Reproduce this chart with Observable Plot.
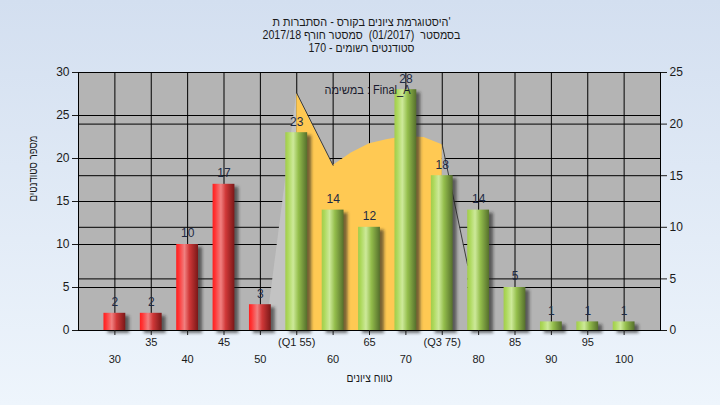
<!DOCTYPE html>
<html><head><meta charset="utf-8">
<script src="https://cdn.jsdelivr.net/npm/d3@7"></script>
<script src="https://cdn.jsdelivr.net/npm/@observablehq/plot@0.6"></script>
<style>
html,body{margin:0;padding:0;}
body{width:720px;height:405px;overflow:hidden;background:linear-gradient(#d3dff0,#eef5fc);}
</style></head><body><div id="chart"></div>
<script>
// ---- data ----
const categories = [30,35,40,45,50,55,60,65,70,75,80,85,90,95,100];
const counts = [2,2,10,17,3,23,14,12,28,18,14,5,1,1,1];
const tickLabels = ["30","35","40","45","50","(Q1 55)","60","65","70","(Q3 75)","80","85","90","95","100"];
const leftTicks = [0,5,10,15,20,25,30];
const rightTicks = [0,5,10,15,20,25];
// secondary-axis area (right scale units)
const curveX = [55,60,62.5,65,67.5,70,72.5,75];
const curveY = [23,16,17.2,18.1,18.5,18.8,18.7,18.0];
// 3D side faces of the area (right scale units)
const leftSideX = [50.8,55];
const leftSideY = [0,23];
const rightSideX = [75,78.5];
const rightSideY = [18,6.3];
const titleLines = ["היסטוגרמת ציונים בקורס - הסתברות ת'", "בסמסטר  (01/2017)  סמסטר חורף 2017/18", "סטודנטים רשומים - 170"];
const yTitle = "מספר סטודנטים";
const xTitle = "טווח ציונים";
const note = "במשימה : Final_A";

// ---- derived tables ----
const R = 30 / 25; // right axis -> left axis
const HALF = 1.5;  // half bar width in x units
const bars = categories.map((c, i) => ({cat: c, n: counts[i], label: tickLabels[i], idx: i}));
const curve = curveX.map((x, i) => ({x, v: curveY[i]}));
const leftSide = leftSideX.map((x, i) => ({x, v: leftSideY[i]}));
const rightSide = rightSideX.map((x, i) => ({x, v: rightSideY[i]}));

function defs() {
  const d = d3.create("svg:defs");
  const grad = (id, stops) => {
    const g = d.append("linearGradient").attr("id", id).attr("x1", 0).attr("x2", 1).attr("y1", 0).attr("y2", 0);
    stops.forEach(([o, c]) => g.append("stop").attr("offset", o).attr("stop-color", c));
  };
  grad("redGrad", [[0, "#ff1e1e"], [0.12, "#ff3535"], [0.38, "#f08080"], [0.6, "#d03838"], [1, "#7a1818"]]);
  grad("greenGrad", [[0, "#a2cc4c"], [0.12, "#acd85a"], [0.36, "#cde99a"], [0.6, "#94be4c"], [1, "#556f2c"]]);
  const f = d.append("filter").attr("id", "blur").attr("x", "-50%").attr("y", "-50%").attr("width", "200%").attr("height", "200%");
  f.append("feGaussianBlur").attr("stdDeviation", 1.6);
  return d.node();
}

const xb = {x1: d => d.cat - HALF, x2: d => d.cat + HALF, y: "n"};
const T = {text: d => d, fontSize: 12, fill: "#1a1a1a"};
const tag = (k) => () => k;

const plot = Plot.plot({
  width: 720, height: 405,
  marginLeft: 78, marginRight: 60, marginTop: 72, marginBottom: 75,
  style: {background: "transparent", fontFamily: "'Liberation Sans', Arial, sans-serif", fontSize: "12px", color: "#1a1a1a", overflow: "visible"},
  x: {domain: [25, 105]},
  y: {domain: [0, 30]},
  marks: [
    defs,
    Plot.frame({fill: "#b4b4b4", stroke: "none"}),
    Plot.gridY(leftTicks, {stroke: "#000", strokeOpacity: 1}),
    Plot.gridY(rightTicks.map(v => v * R), {stroke: "#000", strokeOpacity: 1}),
    Plot.gridX(categories, {stroke: "#000", strokeOpacity: 1}),
    Plot.areaY(leftSide, {x: "x", y: d => d.v * R, fill: "#c3c3c3"}),
    Plot.areaY(rightSide, {x: "x", y: d => d.v * R, fill: "#b4b4b4"}),
    Plot.areaY(curve, {x: "x", y: d => d.v * R, fill: "#ffc953"}),
    Plot.line(curve, {filter: d => d.x <= 60, x: "x", y: d => d.v * R, stroke: "#3c3c3c", strokeWidth: 1}),
    Plot.line(rightSide, {x: "x", y: d => d.v * R, stroke: "#3c3c3c", strokeWidth: 1}),
    Plot.rectY(bars, {...xb, fill: "#1e1e1e", fillOpacity: 0.6, dx: 4, dy: 3, ariaLabel: tag("shadow")}),
    Plot.rectY(bars, {...xb, filter: d => d.cat <= 50, fill: "url(#redGrad)"}),
    Plot.rectY(bars, {...xb, filter: d => d.cat > 50, fill: "url(#greenGrad)"}),
    Plot.frame({stroke: "#000", fill: "none"}),
    Plot.axisY(leftTicks, {anchor: "left", tickSize: 6, tickPadding: 3, label: null, fontSize: 12}),
    Plot.axisY(rightTicks.map(v => v * R), {anchor: "right", tickSize: 6, tickPadding: 3, tickFormat: d => Math.round(d / R), label: null, fontSize: 12}),
    Plot.axisX(categories, {anchor: "bottom", tickSize: 5, tickFormat: () => "", label: null}),
    Plot.text(bars, {filter: d => d.idx % 2 === 1, x: "cat", text: "label", frameAnchor: "bottom", dy: 15, fontSize: 11, fill: "#1a1a1a"}),
    Plot.text(bars, {filter: d => d.idx % 2 === 0, x: "cat", text: "label", frameAnchor: "bottom", dy: 32, fontSize: 11, fill: "#1a1a1a"}),
    Plot.text(bars, {x: "cat", y: "n", text: d => String(d.n), dy: -11, fontSize: 12, fill: "#1e2a44"}),
    Plot.text([note], {...T, frameAnchor: "top", dy: 13, dx: -2, fill: "#1a1a2e", ariaLabel: tag("note")}),
    Plot.text([titleLines[0]], {...T, frameAnchor: "top", dy: -55, dx: -8, ariaLabel: tag("title1")}),
    Plot.text([titleLines[1]], {...T, frameAnchor: "top", dy: -42, dx: -8, ariaLabel: tag("title2")}),
    Plot.text([titleLines[2]], {...T, frameAnchor: "top", dy: -29, dx: -8, ariaLabel: tag("title3")}),
    Plot.text([yTitle], {...T, frameAnchor: "left", dx: -45, rotate: -90, ariaLabel: tag("ytitle")}),
    Plot.text([xTitle], {...T, frameAnchor: "bottom", dy: 51, ariaLabel: tag("xtitle")})
  ]
});
const pick = (k) => {
  const out = [];
  plot.querySelectorAll(`[aria-label="${k}"]`).forEach(el => {
    if (el.tagName === "g") el.querySelectorAll("rect,text").forEach(e => out.push(e));
    else out.push(el);
  });
  return d3.selectAll(out);
};
pick("shadow").attr("filter", "url(#blur)");
// compress Hebrew text runs to the narrower widths seen in the reference
const widths = {note: 86, title1: 178, title2: 198, title3: 106, ytitle: 66, xtitle: 46};
for (const [k, w] of Object.entries(widths)) {
  pick(k).filter(function() { return this.tagName === "text"; })
    .attr("textLength", w).attr("lengthAdjust", "spacingAndGlyphs");
}
document.getElementById("chart").appendChild(plot);
</script>
</body></html>
